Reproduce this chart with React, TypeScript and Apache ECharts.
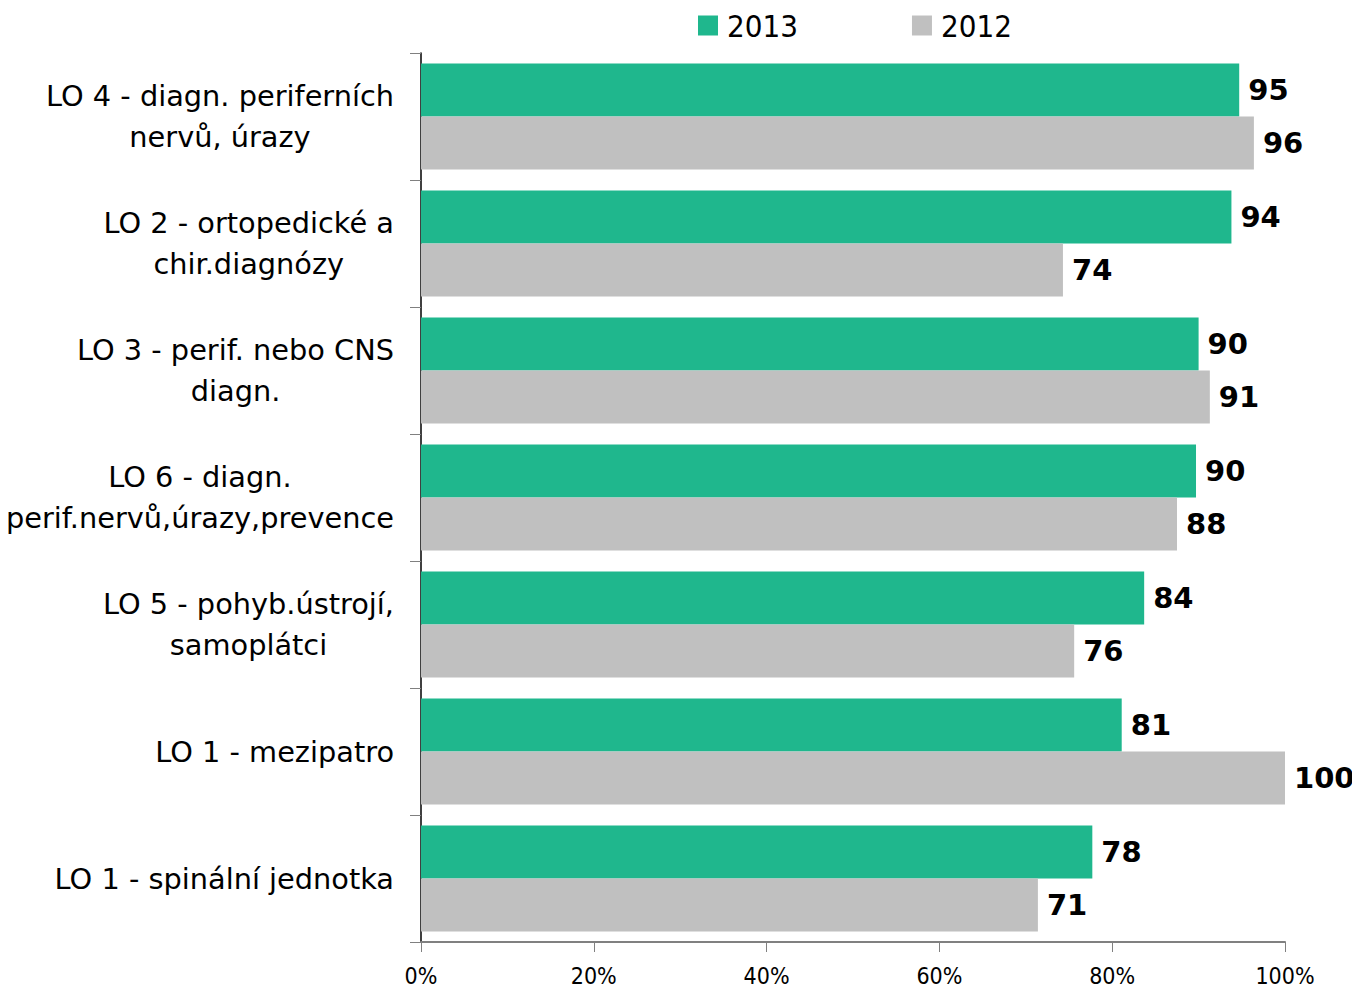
import React, { useEffect, useRef } from "react";
import * as echarts from "echarts";

const categories: string[] = [
  "LO 4 - diagn. periferních\nnervů, úrazy",
  "LO 2 - ortopedické a\nchir.diagnózy",
  "LO 3 - perif. nebo CNS\ndiagn.",
  "LO 6 - diagn.\nperif.nervů,úrazy,prevence",
  "LO 5 - pohyb.ústrojí,\nsamoplátci",
  "LO 1 - mezipatro",
  "LO 1 - spinální jednotka",
];
const values2013: number[] = [94.7, 93.8, 90.0, 89.7, 83.7, 81.1, 77.7];
const values2012: number[] = [96.4, 74.3, 91.3, 87.5, 75.6, 100, 71.4];
const xTicks: number[] = [0, 20, 40, 60, 80, 100];

const FONT_C = "'DejaVu Sans Condensed', 'DejaVu Sans', sans-serif";
const FONT = "'DejaVu Sans', sans-serif";

export default function App() {
  const ref = useRef<HTMLDivElement>(null);
  useEffect(() => {
    if (!ref.current) return;
    const chart = echarts.init(ref.current, undefined, { renderer: "svg" });
    const labelCfg = {
      show: true,
      position: "right" as const,
      distance: 9,
      fontFamily: FONT,
      fontWeight: "bold" as const,
      fontSize: 29,
      color: "#000",
      formatter: (p: any) => String(Math.round(p.value)),
    };
    chart.setOption({
      animation: false,
      textStyle: { fontFamily: FONT },
      legend: {
        left: 693,
        top: 5,
        itemWidth: 20,
        itemHeight: 20,
        itemGap: 114,
        icon: "rect",
        textStyle: { fontSize: 31, color: "#000", fontFamily: FONT_C, padding: [0, 0, 0, 4] },
        data: ["2013", "2012"],
      },
      grid: { left: 421, top: 53, width: 864, height: 889, containLabel: false },
      xAxis: {
        type: "value",
        min: 0,
        max: 100,
        interval: 20,
        splitLine: { show: false },
        axisLine: { show: true, lineStyle: { color: "#808080", width: 2 } },
        axisTick: { show: true, length: 10, lineStyle: { color: "#808080", width: 1 } },
        axisLabel: {
          margin: 22,
          fontSize: 23,
          color: "#000",
          fontFamily: FONT_C,
          formatter: (v: number) => (xTicks.includes(v) ? v + "%" : ""),
        },
      },
      yAxis: {
        type: "category",
        inverse: true,
        data: categories,
        axisLine: { show: true, lineStyle: { color: "#000", width: 1.5 } },
        axisTick: { show: true, length: 11, lineStyle: { color: "#808080", width: 1 } },
        axisLabel: {
          margin: 27,
          fontSize: 28.8,
          lineHeight: 41,
          color: "#000",
          fontFamily: FONT,
          align: "right",
          formatter: (v: string) => v.split("\n").map((l) => `{c|${l}}`).join("\n"),
          rich: { c: { align: "center", fontSize: 28.8, lineHeight: 41, fontFamily: FONT, color: "#000" } },
        },
      },
      series: [
        {
          name: "2013",
          type: "bar",
          data: values2013,
          barGap: "0%",
          barCategoryGap: "16.5%",
          itemStyle: { color: "#1FB78D" },
          label: labelCfg,
        },
        {
          name: "2012",
          type: "bar",
          data: values2012,
          barGap: "0%",
          barCategoryGap: "16.5%",
          itemStyle: { color: "#C0C0C0" },
          label: labelCfg,
        },
      ],
    });
    return () => chart.dispose();
  }, []);
  return <div ref={ref} style={{ width: 1360, height: 992, margin: "-8px 0 0 -8px" }} />;
}
